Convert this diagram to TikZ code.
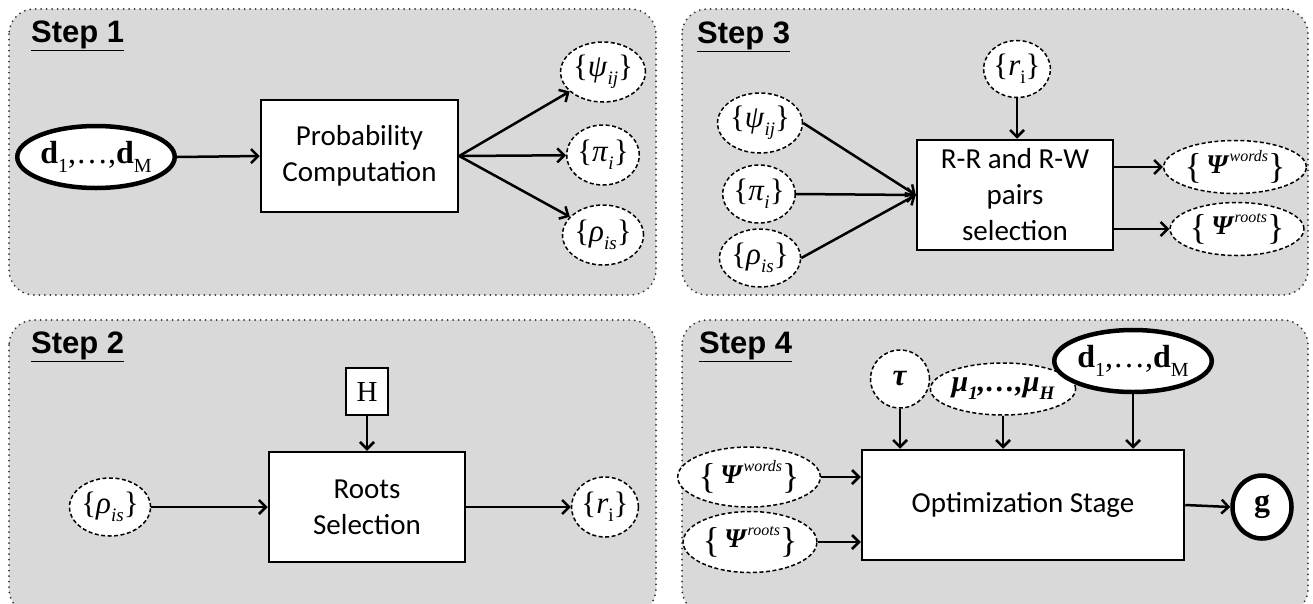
\documentclass[tikz,border=0pt]{standalone}
\usepackage{fontspec}
\setmainfont{Liberation Serif}
\newfontfamily\calib{Carlito}
\newfontfamily\arialf{Liberation Sans}
\usetikzlibrary{shapes.geometric,arrows.meta}
\def\subsz{17}
\newcommand\sbt[1]{\raisebox{-0.27em}{\fontsize{\subsz}{\subsz}\selectfont #1}}
\newcommand\spt[1]{\raisebox{0.42em}{\fontsize{16}{16}\selectfont #1}}
\newcommand\lbr{\raisebox{-5pt}{\fontsize{36}{36}\selectfont\{}}
\newcommand\rbr{\raisebox{-5pt}{\fontsize{36}{36}\selectfont\}}}
\definecolor{panelgray}{HTML}{D9D9D9}
\tikzset{
  panel/.style={draw=black!80, fill=panelgray, line width=2pt, dash pattern=on 0pt off 5.5pt, line cap=round, rounded corners=25pt},
  proc/.style={draw, fill=white, line width=2.5pt, font=\calib\fontsize{29}{36}\selectfont, align=center, inner sep=0pt},
  dvar/.style={ellipse, draw, fill=white, line width=1.5pt, dash pattern=on 4pt off 2.5pt, inner sep=0pt, font=\def\subsz{19}\fontsize{31}{31}\selectfont},
  bigvar/.style={dvar, font=\fontsize{27}{27}\selectfont},
  ovar/.style={ellipse, draw, fill=white, line width=4.5pt, inner sep=0pt, font=\def\subsz{20}\fontsize{32}{32}\selectfont},
  arr/.style={-{Straight Barb[length=7pt,width=14pt]}, line width=2.5pt},
  stepl/.style={font=\arialf\bfseries\fontsize{31}{31}\selectfont, anchor=base west, inner sep=0pt}
}
\begin{document}
\begin{tikzpicture}[x=1pt,y=-1pt]
\useasboundingbox (0,0) rectangle (1313,603);
\clip (0,0) rectangle (1313,603);
% panels
\path[panel] (9,9) rectangle (656,295);
\path[panel] (682,9) rectangle (1308,295);
\path[panel] (9,320) rectangle (656,614);
\path[panel] (682,320) rectangle (1308,614);
\node[stepl] (s1) at (31,42) {\underline{Step 1}};
\node[stepl] (s3) at (697,43) {\underline{Step 3}};
\node[stepl] (s2) at (31,353) {\underline{Step 2}};
\node[stepl] (s4) at (699,353) {\underline{Step 4}};

% Step 1
\node[ovar, minimum width=128pt, minimum height=62pt] (d1) at (96,157) {\textbf{d}\sbt{1},…,\textbf{d}\sbt{M}};
\node[proc, minimum width=197pt, minimum height=112pt] (b1) at (359.5,156) {Probability\\Computation};
\node[dvar, minimum width=60pt, minimum height=60pt] (psi1) at (603,72) {\{\textit{ψ}\sbt{\textit{ij}}\}};
\node[dvar, minimum width=60pt, minimum height=60pt] (pi1) at (603,155) {\{\textit{π}\sbt{\textit{i}}\}};
\node[dvar, minimum width=60pt, minimum height=60pt] (rho1) at (603,235) {\{\textit{ρ}\sbt{\textit{is}}\}};
\draw[arr] (d1.east) -- (b1.west);
\draw[arr] (b1.east) -- (psi1);
\draw[arr] (b1.east) -- (pi1);
\draw[arr] (b1.east) -- (rho1);

% Step 3
\node[proc, minimum width=196pt, minimum height=110pt] (b3) at (1015,195) {R-R and R-W\\pairs\\selection};
\node[dvar, minimum width=63pt, minimum height=57pt] (r3) at (1017,69) {\{\textit{r}\sbt{i}\}};
\node[dvar, minimum width=61pt, minimum height=60pt] (psi3) at (760,123) {\{\textit{ψ}\sbt{\textit{ij}}\}};
\node[dvar, minimum width=61pt, minimum height=58pt] (pi3) at (759,194) {\{\textit{π}\sbt{\textit{i}}\}};
\node[dvar, minimum width=61pt, minimum height=58pt] (rho3) at (760,258) {\{\textit{ρ}\sbt{\textit{is}}\}};
\node[bigvar, minimum width=106pt, minimum height=53pt] (w3) at (1235,167) {\lbr\,\textbf{\textit{Ψ}}\spt{\textit{words}}\rbr};
\node[bigvar, minimum width=106pt, minimum height=53pt] (rt3) at (1237,229) {\lbr\,\textbf{\textit{Ψ}}\spt{\textit{roots}}\rbr};
\draw[arr] (psi3.east) -- (b3.west);
\draw[arr] (pi3.east) -- (b3.west);
\draw[arr] (rho3.east) -- (b3.west);
\draw[arr] (r3.south) -- (r3.south |- b3.north);
\draw[arr] (w3.west -| b3.east) -- (w3.west);
\draw[arr] (rt3.west -| b3.east) -- (rt3.west);

% Step 2
\node[proc, minimum width=196pt, minimum height=110pt] (b2) at (367,507) {Roots\\Selection};
\node[draw, fill=white, line width=2.5pt, minimum width=42pt, minimum height=47pt, inner sep=0pt, font=\fontsize{29}{29}\selectfont] (h2) at (367,391.5) {H};
\node[dvar, minimum width=61pt, minimum height=58pt] (rho2) at (110,507) {\{\textit{ρ}\sbt{\textit{is}}\}};
\node[dvar, minimum width=62pt, minimum height=60pt] (r2) at (605,507) {\{\textit{r}\sbt{i}\}};
\draw[arr] (rho2.east) -- (b2.west);
\draw[arr] (b2.east) -- (r2.west);
\draw[arr] (h2.south) -- (b2.north);

% Step 4
\node[proc, minimum width=322pt, minimum height=110pt] (b4) at (1023,505) {Optimization Stage};
\node[dvar, minimum width=59pt, minimum height=58pt, font=\fontsize{31}{31}\selectfont] (tau) at (900,379) {\textbf{\textit{τ}}};
\node[dvar, minimum width=125pt, minimum height=52pt, font=\def\subsz{19}\fontsize{30}{30}\selectfont] (mu) at (1003,389) {\textbf{\textit{μ\sbt{1},…,μ\sbt{H}}}};
\node[ovar, minimum width=128pt, minimum height=62pt] (d4) at (1133,361) {\textbf{d}\sbt{1},…,\textbf{d}\sbt{M}};
\node[bigvar, minimum width=106pt, minimum height=60pt] (w4) at (749,477) {\lbr\,\textbf{\textit{Ψ}}\spt{\textit{words}}\rbr};
\node[bigvar, minimum width=108pt, minimum height=61pt] (rt4) at (750,542) {\lbr\,\textbf{\textit{Ψ}}\spt{\textit{roots}}\rbr};
\node[ovar, minimum width=59pt, minimum height=63pt] (g4) at (1262,507) {\textbf{g}};
\draw[arr] (tau.south) -- (tau.south |- b4.north);
\draw[arr] (mu.south) -- (mu.south |- b4.north);
\draw[arr] (d4.south) -- (d4.south |- b4.north);
\draw[arr] (w4.east) -- (w4.east -| b4.west);
\draw[arr] (rt4.east) -- (rt4.east -| b4.west);
\draw[arr] (b4.east) -- (g4.west);
\end{tikzpicture}
\end{document}
